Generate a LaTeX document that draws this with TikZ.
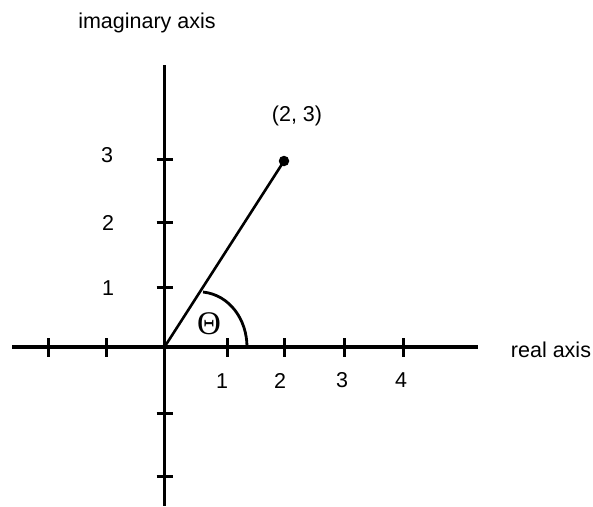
\documentclass[tikz,border=0pt]{standalone}
\usepackage{fontspec}
\setmainfont{Liberation Sans}
\newfontfamily\thetafont{Liberation Serif}
\begin{document}
\begin{tikzpicture}[x=1pt,y=-1pt,
  axisline/.style={line width=3.3pt},
  tickline/.style={line width=3pt},
  lbl/.style={inner sep=0pt,font=\fontsize{21.5}{24}\selectfont},
  ray/.style={line width=2.6pt},
  anglearc/.style={line width=2.8pt}]
\useasboundingbox (0,0) rectangle (593,506);
% axes
\coordinate (O) at (164.5,347);
\coordinate (xl) at (12,347);
\coordinate (xr) at (478,347);
\coordinate (yt) at (164.5,65);
\coordinate (yb) at (164.5,506);
\draw[axisline] (xl) -- (xr);
\draw[axisline] (yt) -- (yb);
% ticks on real axis
\foreach \x in {48,106,227,284,344,403}
  \draw[tickline] (\x,338) -- (\x,357);
% ticks on imaginary axis
\foreach \y in {159,222,287,413,476}
  \draw[tickline] (156.5,\y) -- (172.5,\y);
% point and ray
\node[circle,fill=black,inner sep=0pt,minimum size=10.5pt] (P) at (284,161) {};
\draw[ray] (O) -- (P.center);
% angle arc
\coordinate (a1) at (203,292);
\coordinate (a2) at (247,347);
\draw[anglearc] (a1) .. controls (230,295) and (247,320) .. (a2);
\node[inner sep=0pt,font=\thetafont\fontsize{33}{36}\selectfont] (th) at (209,324) {Θ};
% labels
\node[lbl] (im) at (147,23) {imaginary axis};
\node[lbl] (re) at (551,350) {real axis};
\node[lbl] (pt) at (297,116) {(2, 3)};
\node[lbl] (x1) at (222,381) {1};
\node[lbl] (x2) at (280,381) {2};
\node[lbl] (x3) at (342,380) {3};
\node[lbl] (x4) at (401,380) {4};
\node[lbl] (y3) at (107,155) {3};
\node[lbl] (y2) at (108,223) {2};
\node[lbl] (y1) at (108,288) {1};
\end{tikzpicture}
\end{document}
